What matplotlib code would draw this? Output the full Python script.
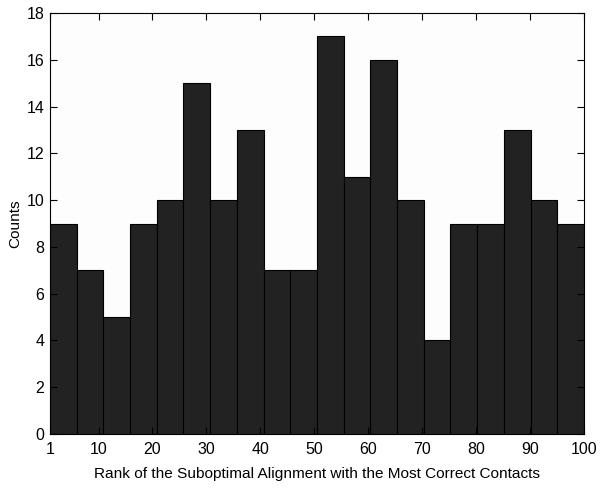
import numpy as np
import matplotlib
matplotlib.use('Agg')
import matplotlib.pyplot as plt

plt.rcParams['font.family'] = ['Liberation Sans', 'DejaVu Sans']

# histogram counts, 20 bins over rank 1..100
counts = [9, 7, 5, 9, 10, 15, 10, 13, 7, 7, 17, 11, 16, 10, 4, 9, 9, 13, 10, 9]
rank_min, rank_max = 1, 100
xticks = [1, 10, 20, 30, 40, 50, 60, 70, 80, 90, 100]
yticks = [0, 2, 4, 6, 8, 10, 12, 14, 16, 18]

edges = np.linspace(rank_min, rank_max, len(counts) + 1)

fig = plt.figure(figsize=(6.05, 4.93), dpi=100)
ax = fig.add_axes([0.0826, 0.1197, 0.8826, 0.8539])
ax.bar(edges[:-1], counts, width=np.diff(edges), align='edge',
       color='#222222', edgecolor='black', linewidth=0.8)

ax.set_xlim(rank_min, rank_max)
ax.set_ylim(0, 18)
ax.set_xticks(xticks)
ax.set_yticks(yticks)
ax.tick_params(direction='in', top=True, right=True, length=5, labelsize=11.5, width=0.8)
ax.tick_params(axis='x', pad=6)
ax.tick_params(axis='y', pad=4)
for s in ax.spines.values():
    s.set_linewidth(0.8)
ax.set_facecolor('#fdfdfd')

ax.set_xlabel('Rank of the Suboptimal Alignment with the Most Correct Contacts', fontsize=11.1, labelpad=7)
ax.set_ylabel('Counts', fontsize=11.1, labelpad=3)

fig.savefig('out.png', dpi=100)
